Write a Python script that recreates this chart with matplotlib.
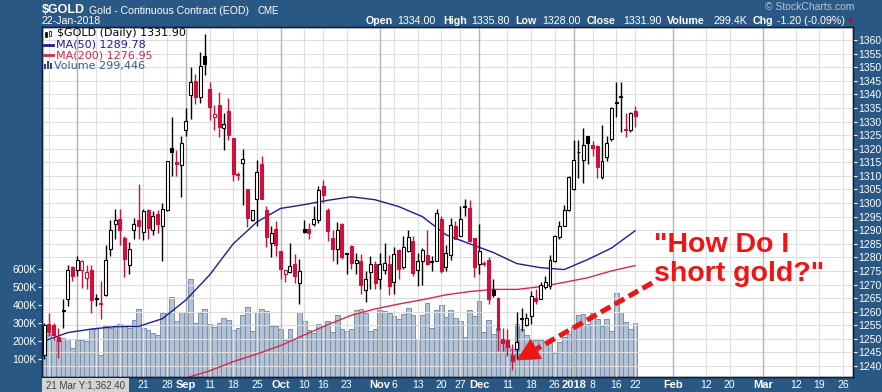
import matplotlib
matplotlib.use("Agg")
import matplotlib.pyplot as plt
import pandas as pd
from matplotlib.patches import Rectangle, Polygon

plt.rcParams["font.family"] = ["Liberation Sans", "DejaVu Sans"]

# ---- data ----
start_day = "2017-07-21"
end_day = "2018-03-29"
holidays = ["2017-09-04", "2017-10-09", "2017-11-23", "2017-12-25",
            "2018-01-01", "2018-01-15", "2018-02-19"]

opens = [1244.0, 1255.5, 1255.0, 1250.5, 1260.6, 1264.8, 1276.5, 1275.2, 1275.2, 1272.5,
         1275.2, 1265.0, 1263.2, 1266.0, 1283.1, 1292.4, 1294.1, 1287.2, 1277.0, 1290.0,
         1293.9, 1289.3, 1297.3, 1290.2, 1296.1, 1291.5, 1297.6, 1320.2, 1315.0, 1314.1,
         1326.8, 1339.8, 1345.1, 1339.0, 1354.1, 1341.9, 1331.7, 1336.1, 1327.6, 1333.7,
         1324.1, 1310.5, 1314.8, 1305.0, 1293.9, 1301.5, 1314.2, 1297.3, 1285.1, 1290.4,
         1282.2, 1274.0, 1274.6, 1277.4, 1270.4, 1290.6, 1290.6, 1292.4, 1293.8, 1306.1,
         1297.3, 1287.2, 1282.9, 1292.1, 1281.5, 1284.1, 1278.0, 1278.6, 1268.0, 1274.6,
         1277.7, 1271.9, 1275.3, 1277.7, 1270.9, 1282.6, 1276.5, 1282.2, 1286.0, 1275.3,
         1278.6, 1280.7, 1278.4, 1278.6, 1294.1, 1276.5, 1280.7, 1291.7, 1288.0, 1298.9,
         1298.1, 1287.0, 1277.7, 1278.0, 1279.2, 1268.0, 1265.1, 1249.9, 1249.5, 1244.0,
         1246.4, 1257.8, 1255.2, 1258.3, 1265.1, 1264.8, 1269.2, 1269.4, 1278.6, 1287.5,
         1291.7, 1297.6, 1305.2, 1318.8, 1315.7, 1324.5, 1321.5, 1321.0, 1309.7, 1317.1,
         1323.4, 1337.2, 1339.1, 1327.3, 1327.0, 1334.0]
highs = [1256.0, 1259.4, 1256.0, 1254.0, 1264.8, 1277.0, 1276.8, 1280.4, 1279.2, 1277.0,
         1277.0, 1266.4, 1271.3, 1284.7, 1293.9, 1297.8, 1297.8, 1287.8, 1285.6, 1294.5,
         1306.9, 1297.8, 1297.8, 1297.0, 1297.3, 1300.0, 1315.3, 1331.8, 1319.4, 1324.5,
         1334.8, 1350.0, 1347.5, 1355.7, 1362.4, 1344.7, 1336.1, 1340.7, 1333.3, 1338.6,
         1324.1, 1311.3, 1319.9, 1305.0, 1297.6, 1315.9, 1317.2, 1298.8, 1291.5, 1293.3,
         1282.2, 1275.3, 1285.1, 1281.4, 1279.5, 1293.9, 1292.7, 1298.8, 1306.1, 1308.3,
         1298.2, 1290.2, 1293.0, 1292.7, 1281.5, 1284.7, 1281.7, 1281.4, 1275.0, 1280.4,
         1278.5, 1281.7, 1285.1, 1280.7, 1283.9, 1283.1, 1288.0, 1290.0, 1287.8, 1281.7,
         1283.5, 1290.0, 1280.4, 1297.8, 1295.1, 1284.7, 1294.5, 1293.3, 1299.0, 1301.3,
         1301.0, 1287.0, 1292.4, 1278.5, 1280.2, 1271.9, 1265.5, 1254.1, 1253.8, 1248.0,
         1259.9, 1261.5, 1259.4, 1267.6, 1268.2, 1270.9, 1273.3, 1281.0, 1288.4, 1293.3,
         1299.4, 1309.8, 1323.3, 1323.3, 1327.6, 1324.7, 1322.7, 1321.4, 1328.7, 1324.5,
         1335.5, 1344.7, 1344.7, 1333.0, 1333.6, 1335.8]
lows = [1242.5, 1251.0, 1249.5, 1243.0, 1254.0, 1262.0, 1271.3, 1273.0, 1268.8, 1268.2,
        1259.6, 1262.0, 1257.2, 1265.8, 1280.4, 1286.6, 1284.4, 1272.9, 1273.7, 1286.6,
        1286.6, 1286.3, 1286.6, 1288.4, 1289.0, 1278.5, 1297.0, 1310.1, 1309.8, 1302.2,
        1324.5, 1330.9, 1336.5, 1337.0, 1347.1, 1330.6, 1326.7, 1324.3, 1319.4, 1323.3,
        1308.0, 1308.3, 1299.2, 1291.2, 1293.5, 1291.7, 1301.5, 1283.9, 1280.2, 1280.4,
        1272.2, 1271.0, 1274.3, 1270.6, 1262.7, 1289.0, 1286.6, 1291.7, 1292.7, 1300.0,
        1286.0, 1278.6, 1277.7, 1279.5, 1273.7, 1275.8, 1273.7, 1266.4, 1263.6, 1268.4,
        1268.2, 1268.2, 1273.7, 1266.0, 1266.4, 1271.9, 1275.8, 1281.9, 1273.3, 1269.4,
        1269.7, 1277.0, 1275.0, 1278.6, 1274.3, 1275.0, 1279.2, 1286.6, 1288.0, 1295.1,
        1285.6, 1272.9, 1273.7, 1276.8, 1263.0, 1265.5, 1245.6, 1245.6, 1243.7, 1238.6,
        1242.5, 1252.9, 1254.7, 1255.3, 1263.0, 1264.5, 1268.2, 1268.2, 1278.2, 1286.6,
        1291.5, 1297.0, 1304.7, 1309.2, 1307.4, 1314.5, 1317.2, 1309.1, 1308.7, 1315.5,
        1323.0, 1331.8, 1326.3, 1324.2, 1326.0, 1328.0]
closes = [1255.0, 1252.5, 1251.5, 1249.3, 1260.3, 1275.2, 1273.3, 1279.2, 1278.5, 1274.6,
          1264.3, 1264.6, 1263.0, 1279.2, 1290.2, 1293.9, 1290.0, 1279.5, 1282.9, 1292.4,
          1291.7, 1297.0, 1290.8, 1295.1, 1292.1, 1297.8, 1315.3, 1318.6, 1314.5, 1322.1,
          1330.3, 1344.7, 1339.2, 1350.5, 1351.2, 1335.5, 1332.8, 1327.9, 1329.2, 1325.0,
          1310.8, 1310.3, 1316.3, 1294.5, 1297.6, 1311.5, 1301.5, 1287.5, 1288.8, 1284.7,
          1275.8, 1275.5, 1276.8, 1273.3, 1274.8, 1289.4, 1288.8, 1294.2, 1304.7, 1303.1,
          1289.6, 1282.9, 1290.0, 1280.2, 1281.3, 1278.0, 1278.9, 1269.7, 1271.9, 1277.7,
          1270.4, 1277.4, 1278.0, 1269.4, 1281.3, 1275.8, 1283.7, 1287.5, 1274.1, 1278.6,
          1282.6, 1277.7, 1278.2, 1296.4, 1275.0, 1281.7, 1292.0, 1286.8, 1294.1, 1298.6,
          1286.0, 1276.5, 1282.2, 1277.4, 1264.8, 1266.0, 1253.3, 1248.5, 1246.9, 1241.9,
          1248.9, 1257.2, 1257.5, 1265.8, 1263.9, 1269.7, 1271.1, 1279.2, 1288.0, 1291.5,
          1297.3, 1309.6, 1315.9, 1318.6, 1321.4, 1322.1, 1320.1, 1313.4, 1315.6, 1322.2,
          1334.8, 1336.9, 1338.9, 1327.0, 1333.1, 1331.9]
volumes_k = [228, 237, 209, 218, 218, 209, 163, 206, 206, 200, 265, 265, 120, 283, 274,
             289, 296, 283, 274, 317, 376, 274, 261, 243, 231, 354, 354, 446, 311, 361,
             361, 546, 302, 354, 376, 293, 280, 302, 328, 317, 261, 272, 343, 389, 254,
             361, 376, 367, 283, 283, 269, 206, 265, 209, 361, 311, 261, 246, 293, 287,
             311, 250, 343, 265, 256, 269, 370, 376, 357, 256, 265, 372, 367, 354, 339,
             324, 348, 385, 343, 213, 343, 413, 270, 372, 398, 335, 372, 330, 309, 224,
             372, 339, 422, 250, 317, 237, 274, 213, 172, 154, 296, 265, 231, 209, 206,
             206, 200, 187, 135, 194, 224, 237, 280, 343, 348, 293, 354, 320, 283, 320,
             256, 469, 361, 306, 269, 299.4]

ma50_at = [0, 5, 10, 15, 20, 25, 30, 35, 40, 45, 50, 55, 60, 65, 70, 75, 80, 85,
           90, 95, 100, 105, 110, 115, 120, 125]
ma50 = [1249.2, 1252.3, 1253.6, 1254.5, 1254.6, 1257.4, 1264.3, 1273.5, 1285.0, 1293.0,
        1298.0, 1299.4, 1301.0, 1302.3, 1301.2, 1298.7, 1295.0, 1288.3, 1285.0, 1281.8,
        1277.7, 1276.2, 1275.5, 1279.2, 1283.4, 1289.78]
ma200_at = [30, 35, 40, 45, 50, 55, 60, 65, 70, 75, 80, 85, 90, 95, 100, 105, 110,
            115, 120, 125]
ma200 = [1235.6, 1238.2, 1241.6, 1244.4, 1247.5, 1251.4, 1255.2, 1258.7, 1261.0, 1262.8,
         1264.4, 1266.2, 1267.4, 1268.2, 1268.2, 1269.2, 1270.8, 1272.5, 1275.0, 1276.95]

tick_days = ["2017-07-24", "2017-08-01", "2017-08-07", "2017-08-14",
             "2017-08-21", "2017-08-28", "2017-09-01", "2017-09-11", "2017-09-18",
             "2017-09-25", "2017-10-02", "2017-10-10", "2017-10-16", "2017-10-23",
             "2017-11-01", "2017-11-06", "2017-11-13", "2017-11-20", "2017-11-27",
             "2017-12-01", "2017-12-11", "2017-12-18", "2017-12-26", "2018-01-02",
             "2018-01-08", "2018-01-16", "2018-01-22", "2018-02-01", "2018-02-12",
             "2018-02-20", "2018-03-01", "2018-03-12", "2018-03-19", "2018-03-26"]
tick_labels = ["", "", "", "",
               "21", "28", "Sep", "11", "18", "25", "Oct", "10", "16", "23",
               "Nov", "6", "13", "20", "27", "Dec", "11", "18", "26", "2018",
               "8", "16", "22", "Feb", "12", "20", "Mar", "12", "19", "26"]
month_starts = ["2017-08-01", "2017-09-01", "2017-10-02", "2017-11-01", "2017-12-01",
                "2018-01-02", "2018-02-01", "2018-03-01"]
price_ticks = list(range(1240, 1361, 5))
vol_ticks = [100, 200, 300, 400, 500, 600]

# ---- styling ----
BG = "#2a5884"
RED = "#d0103a"
NAVY = "#1c1c9a"
MA_RED = "#d8264e"
GRID = "#dedede"
GRID_M = "#b4b4b4"
ARROW = "#f01414"

days = pd.bdate_range(start_day, end_day)
days = days[~days.isin(pd.to_datetime(holidays))]
day_pos = pd.Series(range(len(days)), index=days)

W, H = 882, 392
L, R, T, B = 42, 853, 27, 377


def fx(x):
    return x / W


def fy(y):
    return 1 - y / H


fig = plt.figure(figsize=(W / 100, H / 100), dpi=100, facecolor=BG)
ax_vol = fig.add_axes([fx(L), fy(B), (R - L) / W, (B - T) / H])
ax = ax_vol.twinx()

ax_vol.set_xlim(-0.45, 171.1)
ax_vol.set_ylim(0, 1944)
ax.set_ylim(1235.95, 1364.8)

# volume bars
x_all = list(range(len(closes)))
ax_vol.bar(x_all, volumes_k, width=1.0, color="#b3c2d4", edgecolor="#7b8fa8",
           linewidth=0.7, zorder=2)

# grid
for p in price_ticks:
    ax.axhline(p, color=GRID, lw=0.8, zorder=0)
tick_pos = [day_pos[pd.Timestamp(d)] for d in tick_days]
month_pos = set(day_pos[pd.Timestamp(d)] for d in month_starts)
for xp in tick_pos:
    ax.axvline(xp, color=GRID_M if xp in month_pos else GRID,
               lw=1.0 if xp in month_pos else 0.8, zorder=0)

# moving averages
ax.plot(ma50_at, ma50, color=NAVY, lw=1.0, zorder=2)
ax.plot(ma200_at, ma200, color=MA_RED, lw=1.0, zorder=2)

# candles (StockCharts colouring: red when close below previous close)
bw = 0.62
for i in x_all:
    o, h, l, c = opens[i], highs[i], lows[i], closes[i]
    prev = closes[i - 1] if i > 0 else o
    col = RED if c < prev else "black"
    ax.vlines(i, l, h, color=col, lw=1.0, zorder=3)
    bottom = min(o, c)
    height = max(abs(c - o), 0.35)
    face = col if c < o else "white"
    ax.add_patch(Rectangle((i - bw / 2, bottom), bw, height, facecolor=face,
                           edgecolor=col, lw=0.8, zorder=4))

# axes cosmetics
for a in (ax, ax_vol):
    for s in a.spines.values():
        s.set_color("#10203a")
        s.set_linewidth(1.0)
ax.set_yticks(price_ticks)
ax.set_yticklabels([str(p) for p in price_ticks])
ax.tick_params(axis="y", colors="white", labelsize=7.5, length=3, width=0.8, pad=1)
ax_vol.set_yticks(vol_ticks)
ax_vol.set_yticklabels([f"{v}K" for v in vol_ticks])
ax_vol.tick_params(axis="y", colors="white", labelsize=7.5, length=3, width=0.8, pad=1)
ax_vol.set_xticks(tick_pos)
ax_vol.set_xticklabels(tick_labels)
ax_vol.tick_params(axis="x", colors="white", length=0, pad=2.5, labelsize=7.5)
for t in ax_vol.get_xticklabels():
    lab = t.get_text()
    if lab and (not lab.isdigit() or len(lab) == 4):
        t.set_fontweight("bold")
        t.set_fontsize(8)

# header
fig.text(fx(42), fy(10), "$GOLD", color="white", fontsize=9, fontweight="bold", va="center")
fig.text(fx(89), fy(10.5), "Gold - Continuous Contract (EOD)", color="white", fontsize=7.6,
         va="center")
fig.text(fx(257), fy(10.5), "CME", color="white", fontsize=7, va="center")
fig.text(fx(42), fy(21), "22-Jan-2018", color="white", fontsize=7.6, va="center")
fig.text(fx(765), fy(7.5), "\u00a9 StockCharts.com", color="#b8c5d6", fontsize=7.5,
         va="center")
header = [("Open", 366, True), ("1334.00", 397, False), ("High", 443, True),
          ("1335.80", 471, False), ("Low", 515, True), ("1328.00", 542, False),
          ("Close", 587, True), ("1331.90", 623, False), ("Volume", 667, True),
          ("299.4K", 713, False), ("Chg", 753, True), ("-1.20 (-0.09%)", 777, False)]
for txt, xpos, bold in header:
    fig.text(fx(xpos), fy(21), txt, color="white", fontsize=7.7,
             fontweight="bold" if bold else "normal", va="center")
fig.text(fx(848), fy(21), "\u25bc", color="#b0102e", fontsize=5, va="center",
         family="DejaVu Sans")

# legend inside the chart
leg_font = dict(family="DejaVu Sans", fontsize=8.0, va="center")
fig.text(fx(57), fy(33.5), "$GOLD (Daily) 1331.90", color="black", **leg_font)
fig.add_artist(Rectangle((fx(45), fy(37)), 2 / W, 5 / H, transform=fig.transFigure,
                         facecolor="black", edgecolor="black", lw=0.5))
fig.add_artist(Rectangle((fx(49), fy(36)), 2 / W, 5 / H, transform=fig.transFigure,
                         facecolor="white", edgecolor="black", lw=0.5))
fig.add_artist(plt.Line2D([fx(44), fx(53)], [fy(44.5), fy(44.5)], color=NAVY, lw=2))
fig.text(fx(56), fy(44.5), "MA(50) 1289.78", color=NAVY, **leg_font)
fig.add_artist(plt.Line2D([fx(44), fx(53)], [fy(55), fy(55)], color=MA_RED, lw=2))
fig.text(fx(56), fy(55), "MA(200) 1276.95", color=MA_RED, **leg_font)
for k, hh in enumerate([5, 8, 6]):
    fig.add_artist(Rectangle((fx(44 + 3 * k), fy(69)), 2 / W, hh / H,
                             transform=fig.transFigure, facecolor="#2a4a8a", lw=0))
fig.text(fx(54), fy(65.5), "Volume 299,446", color="#3b5b8c", **leg_font)

# cursor read-out box bottom left
fig.add_artist(Rectangle((fx(42), 0), 87 / W, 14 / H, transform=fig.transFigure,
                         facecolor="#d4d4d4", edgecolor="none", zorder=5))
fig.text(fx(85), fy(385), "21 Mar Y:1,362.40", color="#404040", fontsize=7,
         ha="center", va="center", zorder=6)

# annotation: dashed shaft plus a solid triangular head
tail = (128.6, 1270.6)
head_base = (104.07, 1246.2)
head = [(100.0, 1242.2), (105.24, 1242.69), (102.91, 1249.76)]
ax.plot([tail[0], head_base[0]], [tail[1], head_base[1]], color=ARROW, lw=3.6,
        linestyle=(0, (2.2, 1.0)), solid_capstyle="butt", zorder=6, clip_on=False)
ax.add_patch(Polygon(head, closed=True, facecolor=ARROW, edgecolor=ARROW, lw=0.5,
                     zorder=6))
fig.text(fx(654), fy(232), "\"How Do I\nshort gold?\"", color=ARROW, fontsize=20.5,
         fontweight="bold", va="top", ha="left", linespacing=1.15)

fig.savefig("out.png", dpi=100, facecolor=BG)
